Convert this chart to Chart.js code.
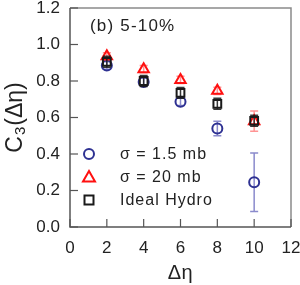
<!DOCTYPE html>
<html><head><meta charset="utf-8">
<script src="https://cdn.jsdelivr.net/npm/chart.js@4"></script>
<style>html,body{margin:0;padding:0;background:#fff}#wrap{width:300px;height:285px}</style>
</head><body><div id="wrap"><canvas id="c" width="300" height="285"></canvas></div>
<script>
const etaGaps = [2, 4, 6, 8, 10];
const sigma15 = [0.885, 0.795, 0.686, 0.54, 0.245];
const sigma15Err = [0.02, 0.02, 0.02, 0.04, 0.16];
const sigma20 = [0.935, 0.865, 0.806, 0.746, 0.58];
const sigma20Err = [0.02, 0.02, 0.02, 0.02, 0.055];
const idealHydro = [0.905, 0.80, 0.735, 0.675, 0.582];
const idealHydroErr = [0.03, 0.03, 0.03, 0.03, 0.03];
const seriesNames = ['\u03C3 = 1.5 mb', '\u03C3 = 20 mb', 'Ideal Hydro'];
const panelLabel = '(b) 5-10%';
const xTicks = [0, 2, 4, 6, 8, 10, 12];
const yTicks = [0.0, 0.2, 0.4, 0.6, 0.8, 1.0, 1.2];

const FONT = '"Liberation Sans", Arial, sans-serif';
const pts = (ys) => etaGaps.map((x, i) => ({x, y: ys[i]}));

const errorBars = {
  id: 'errorBars',
  beforeDatasetDraw(chart, args) {
    const ds = chart.data.datasets[args.index];
    if (!ds.err) return;
    const {ctx, scales: {x, y}} = chart;
    ctx.save();
    ctx.strokeStyle = ds.errColor;
    ctx.lineWidth = 1.5;
    ds.data.forEach((p, i) => {
      const px = x.getPixelForValue(p.x);
      const y1 = y.getPixelForValue(p.y + ds.err[i]);
      const y2 = y.getPixelForValue(p.y - ds.err[i]);
      ctx.beginPath();
      ctx.moveTo(px, y1); ctx.lineTo(px, y2);
      ctx.moveTo(px - 4, y1); ctx.lineTo(px + 4, y1);
      ctx.moveTo(px - 4, y2); ctx.lineTo(px + 4, y2);
      ctx.stroke();
    });
    ctx.restore();
  }
};

const decor = {
  id: 'decor',
  afterDraw(chart) {
    const {ctx, chartArea: a, scales: {x, y}} = chart;
    ctx.save();
    // frame
    ctx.lineWidth = 1.5;
    ctx.strokeStyle = '#8a8a8a';
    ctx.beginPath();
    ctx.moveTo(a.left, a.top); ctx.lineTo(a.right, a.top); ctx.lineTo(a.right, a.bottom);
    ctx.stroke();
    ctx.strokeStyle = '#555';
    ctx.beginPath();
    ctx.moveTo(a.left, a.top); ctx.lineTo(a.left, a.bottom); ctx.lineTo(a.right, a.bottom);
    ctx.stroke();
    // inward ticks
    ctx.lineWidth = 1.2;
    yTicks.forEach(v => {
      const py = y.getPixelForValue(v);
      ctx.beginPath(); ctx.moveTo(a.left, py); ctx.lineTo(a.left + 8, py); ctx.stroke();
    });
    xTicks.forEach(v => {
      const px = x.getPixelForValue(v);
      ctx.beginPath(); ctx.moveTo(px, a.bottom); ctx.lineTo(px, a.bottom - 8); ctx.stroke();
    });
    // panel label
    ctx.fillStyle = '#222';
    ctx.letterSpacing = '1.2px';
    ctx.font = '17px ' + FONT;
    ctx.textBaseline = 'middle';
    ctx.textAlign = 'left';
    ctx.fillText(panelLabel, 90, 26);
    // legend
    ctx.letterSpacing = '1px';
    ctx.font = '16px ' + FONT;
    const ds = chart.data.datasets;
    const legY = [154, 177, 200];
    ds.forEach((d, i) => {
      const cx = 89, cy = legY[i];
      ctx.strokeStyle = d.borderColor;
      ctx.lineWidth = 2;
      ctx.beginPath();
      if (d.pointStyle === 'circle') { ctx.arc(cx, cy, 5, 0, Math.PI * 2); }
      else if (d.pointStyle === 'triangle') { ctx.moveTo(cx, cy - 6); ctx.lineTo(cx + 6, cy + 4.5); ctx.lineTo(cx - 6, cy + 4.5); ctx.closePath(); }
      else { ctx.rect(cx - 4.5, cy - 4.5, 9, 9); }
      ctx.stroke();
      ctx.fillStyle = '#222';
      ctx.fillText(seriesNames[i], 120, cy + 1);
    });
    // axis titles
    ctx.letterSpacing = '0.5px';
    ctx.font = '20px ' + FONT;
    ctx.textAlign = 'center';
    ctx.fillText('\u0394\u03B7', (a.left + a.right) / 2, 273);
    ctx.letterSpacing = '0px';
    ctx.textBaseline = 'alphabetic';
    ctx.translate(22, (a.top + a.bottom) / 2);
    ctx.rotate(-Math.PI / 2);
    ctx.textAlign = 'left';
    const p1 = 'C', p2 = '3', p3 = '(\u0394\u03B7)';
    ctx.font = '23px ' + FONT;
    const w1 = ctx.measureText(p1).width, w3 = ctx.measureText(p3).width;
    ctx.font = '15px ' + FONT;
    const w2 = ctx.measureText(p2).width;
    let sx = -(w1 + w2 + w3 + 2) / 2;
    ctx.font = '23px ' + FONT;
    ctx.fillText(p1, sx, 0);
    ctx.font = '15px ' + FONT;
    ctx.fillText(p2, sx + w1 + 1, 3);
    ctx.font = '23px ' + FONT;
    ctx.fillText(p3, sx + w1 + w2 + 2, 0);
    ctx.restore();
  }
};

new Chart(document.getElementById('c'), {
  type: 'scatter',
  data: {
    datasets: [
      {label: seriesNames[0], data: pts(sigma15), err: sigma15Err, errColor: 'rgba(60,60,170,0.6)',
       pointStyle: 'circle', pointRadius: 5, borderColor: '#2E3192', backgroundColor: 'rgba(0,0,0,0)', borderWidth: 2, order: 2},
      {label: seriesNames[1], data: pts(sigma20), err: sigma20Err, errColor: 'rgba(255,60,60,0.55)',
       pointStyle: 'triangle', pointRadius: 6, borderColor: '#FF1010', backgroundColor: 'rgba(0,0,0,0)', borderWidth: 2, order: 1},
      {label: seriesNames[2], data: pts(idealHydro), err: idealHydroErr, errColor: 'rgba(20,20,20,0.85)',
       pointStyle: 'rect', pointRadius: 5.5, borderColor: '#1a1a1a', backgroundColor: 'rgba(0,0,0,0)', borderWidth: 2, order: 0}
    ]
  },
  options: {
    responsive: false,
    animation: false,
    devicePixelRatio: 1,
    layout: {padding: {top: 6, right: 9, left: 0, bottom: 0}},
    plugins: {legend: {display: false}, tooltip: {enabled: false}},
    scales: {
      x: {
        min: 0, max: 12,
        afterBuildTicks: s => { s.ticks = xTicks.map(v => ({value: v})); },
        afterFit: s => { s.height = 58; s.paddingLeft = 0; s.paddingRight = 0; },
        grid: {display: false, drawTicks: false},
        border: {display: false},
        ticks: {padding: 11, color: '#222', font: {family: FONT, size: 17}, maxRotation: 0, callback: v => String(v)}
      },
      y: {
        min: 0, max: 1.2,
        afterBuildTicks: s => { s.ticks = yTicks.map(v => ({value: v})); },
        afterFit: s => { s.width = 70; s.paddingTop = 0; s.paddingBottom = 0; },
        grid: {display: false, drawTicks: false},
        border: {display: false},
        ticks: {padding: 10, color: '#222', font: {family: FONT, size: 17}, callback: v => Number(v).toFixed(1)}
      }
    }
  },
  plugins: [errorBars, decor]
});
</script>
</body></html>
